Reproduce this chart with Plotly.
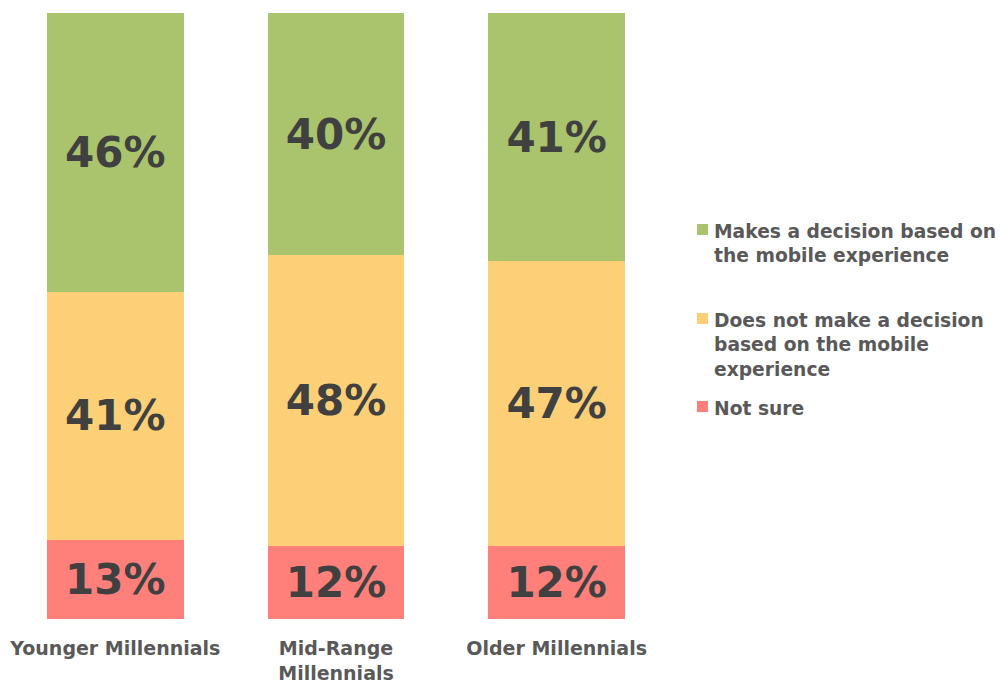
import plotly.graph_objects as go

# Age groups and share of respondents (percent) per answer
categories = ["Younger Millennials", "Mid-Range<br>Millennials", "Older Millennials"]
series_names = [
    "Not sure",
    "Does not make a decision<br>based on the mobile<br>experience",
    "Makes a decision based on<br>the mobile experience",
]
not_sure = [13, 12, 12]
no_decision = [41, 48, 47]
decision = [46, 40, 41]

series_values = [not_sure, no_decision, decision]
colors = ["#FF7F7B", "#FDCF76", "#A9C46C"]

FONT = "DejaVu Sans"
LABEL_COLOR = "#404040"
TEXT_COLOR = "#595959"

fig = go.Figure()
x_idx = list(range(len(categories)))
for name, vals, col in zip(series_names, series_values, colors):
    fig.add_trace(go.Bar(
        x=x_idx, y=vals, name=name,
        marker=dict(color=col, line=dict(width=0)),
        width=0.62,
        text=[f"{v}%" for v in vals],
        textposition="inside",
        insidetextanchor="middle",
        textangle=0,
        textfont=dict(family=FONT, size=42, color=LABEL_COLOR, weight="bold"),
        showlegend=False,
        hoverinfo="skip",
    ))

fig.update_layout(
    barmode="stack",
    width=1001, height=682,
    margin=dict(l=5, r=334, t=13, b=63),
    plot_bgcolor="white", paper_bgcolor="white",
    uniformtext=dict(mode=False),
    xaxis=dict(
        range=[-0.5, 2.5],
        automargin=False,
        tickmode="array", tickvals=x_idx, ticktext=categories,
        tickfont=dict(family=FONT, size=19, color=TEXT_COLOR, weight="bold"),
        showgrid=False, zeroline=False, showline=False,
        ticks="outside", ticklen=12, tickcolor="rgba(0,0,0,0)",
    ),
    yaxis=dict(range=[0, 100], visible=False, automargin=False),
)

# Legend drawn on the right: a colour square beside each wrapped label
legend_items = [
    (series_names[2], colors[2], 232),
    (series_names[1], colors[1], 321),
    (series_names[0], colors[0], 409),
]
for text, col, y_px in legend_items:
    fig.add_shape(
        type="rect", xref="paper", yref="paper",
        x0=(697 - 5) / 662, x1=(708 - 5) / 662,
        y0=(619 - (y_px - 8)) / 606, y1=(619 - (y_px + 3)) / 606,
        fillcolor=col, line=dict(width=0),
    )
    fig.add_annotation(
        xref="paper", yref="paper",
        x=(712 - 5) / 662, y=(619 - (y_px - 13)) / 606,
        xanchor="left", yanchor="top", align="left",
        text=text, showarrow=False,
        font=dict(family=FONT, size=18.7, color=TEXT_COLOR, weight="bold"),
    )

fig.write_html("out.html")
